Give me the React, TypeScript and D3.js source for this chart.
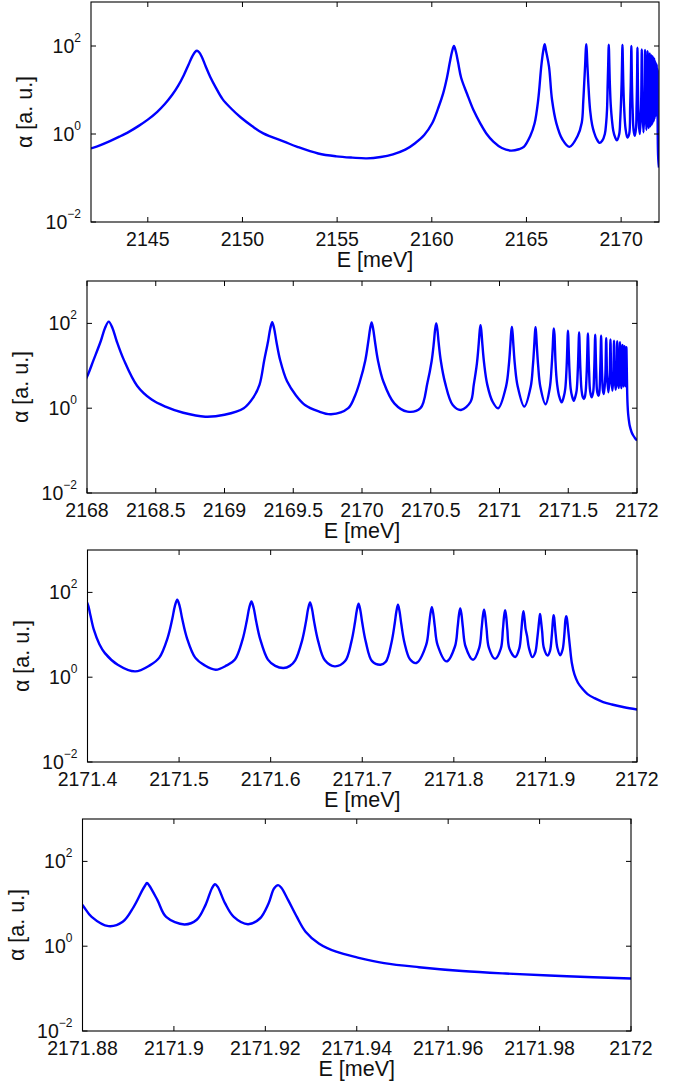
import * as d3 from 'd3';

// absorption spectrum: [E (meV), alpha (a.u.)]
// coarse scan, panel 1
const broadScan: [number, number][] = [
  [2142.0, 0.47], [2142.5, 0.56], [2143.0, 0.69], [2143.5, 0.87], [2144.0, 1.12],
  [2144.5, 1.51], [2145.0, 2.12], [2145.5, 3.2], [2145.9, 4.8], [2146.3, 7.9],
  [2146.6, 12.4], [2146.9, 21.7], [2147.15, 37.6], [2147.35, 58], [2147.5, 74],
  [2147.6, 78], [2147.7, 73], [2147.85, 57], [2148.05, 35], [2148.3, 19.8],
  [2148.6, 11.2], [2148.95, 6.2], [2149.4, 3.8], [2149.9, 2.4], [2150.5, 1.52],
  [2151.1, 1.03], [2152.2, 0.67], [2152.9, 0.51], [2154.0, 0.36], [2154.96, 0.31],
  [2155.8, 0.29], [2156.57, 0.28], [2157.3, 0.3], [2157.95, 0.345], [2158.6, 0.44],
  [2159.1, 0.61], [2159.6, 0.95], [2160.02, 1.75], [2160.35, 4.0], [2160.6, 8.4],
  [2160.8, 19], [2160.95, 42], [2161.07, 75], [2161.17, 100], [2161.27, 75],
  [2161.39, 42], [2161.55, 19], [2161.87, 8.0], [2162.2, 3.5], [2162.56, 1.75],
  [2162.9, 1.0], [2163.25, 0.67], [2163.7, 0.48], [2164.17, 0.42], [2164.6, 0.45],
  [2164.86, 0.51], [2165.2, 0.9], [2165.43, 1.75], [2165.62, 6], [2165.78, 34],
  [2165.88, 75], [2165.96, 110], [2166.04, 75], [2166.19, 34], [2166.35, 6],
  [2166.58, 1.75], [2166.9, 0.75], [2167.27, 0.51], [2167.7, 0.9], [2167.92, 1.8],
];

// panel 2
const midScan: [number, number][] = [
  [2168.0, 5.5], [2168.048, 13.8], [2168.101, 39], [2168.131, 78], [2168.158, 110],
  [2168.185, 78], [2168.215, 39], [2168.268, 13.8], [2168.364, 3.4], [2168.47, 1.6],
  [2168.57, 1.09], [2168.7, 0.78], [2168.86, 0.63], [2169.0, 0.7], [2169.14, 1.0],
  [2169.21, 1.8], [2169.255, 3.6], [2169.289, 13.5], [2169.317, 38], [2169.333, 76],
  [2169.347, 107], [2169.361, 76], [2169.377, 38], [2169.405, 13.5], [2169.455, 4.3],
  [2169.52, 2.0], [2169.585, 1.19], [2169.68, 0.85], [2169.775, 0.72], [2169.9, 1.0],
  [2169.95, 2.0], [2169.984, 4.2], [2170.024, 13.4], [2170.046, 38], [2170.059, 75],
  [2170.07, 106], [2170.081, 75], [2170.094, 38], [2170.116, 13.4], [2170.156, 4.2],
  [2170.235, 1.3], [2170.33, 0.83], [2170.425, 1.0], [2170.476, 4.0], [2170.506, 12.6],
  [2170.5225, 35], [2170.5316, 71], [2170.54, 100], [2170.5484, 71], [2170.5575, 35],
  [2170.574, 12.6], [2170.604, 4.0], [2170.66, 1.19], [2170.72, 0.91], [2170.79, 1.42],
  [2170.813, 3.6], [2170.836, 11.5], [2170.8485, 32], [2170.8556, 64], [2170.862, 91],
  [2170.8684, 64], [2170.8755, 32], [2170.888, 11.5], [2170.911, 3.6], [2170.95, 1.42],
  [2170.99, 1.0], [2171.048, 3.3], [2171.068, 10.5], [2171.0785, 29.5], [2171.0845, 58],
  [2171.09, 83], [2171.0955, 58], [2171.1015, 29.5], [2171.112, 10.5], [2171.132, 3.3],
  [2171.18, 1.09], [2171.227, 3.2], [2171.243, 10.2], [2171.2523, 29], [2171.2574, 57],
  [2171.262, 81], [2171.2666, 57], [2171.2717, 29], [2171.281, 10.2], [2171.297, 3.2],
  [2171.335, 1.24], [2171.3655, 3.0], [2171.379, 9.5], [2171.387, 27], [2171.391, 53],
  [2171.395, 76],
];

// panel 3
const edgeScan: [number, number][] = [
  [2171.4, 55], [2171.403, 30], [2171.407, 13], [2171.413, 6], [2171.419, 3.7],
  [2171.433, 1.97], [2171.452, 1.37], [2171.468, 1.9], [2171.4784, 2.9], [2171.4875, 8.5],
  [2171.4926, 23.9], [2171.4954, 47.6], [2171.498, 67], [2171.5006, 47.6], [2171.5034, 23.9],
  [2171.5085, 8.5], [2171.5176, 2.9], [2171.528, 1.9], [2171.54, 1.5], [2171.552, 1.9],
  [2171.561, 2.6], [2171.5693, 7.7], [2171.574, 21.8], [2171.5766, 43.4], [2171.579, 61],
  [2171.5814, 43.4], [2171.584, 21.8], [2171.5887, 7.7], [2171.597, 2.6], [2171.605, 1.85],
  [2171.614, 1.65], [2171.621, 1.85], [2171.6268, 2.5], [2171.6343, 7.3], [2171.6386, 20.7],
  [2171.6409, 41], [2171.643, 58], [2171.6451, 41], [2171.6474, 20.7], [2171.6517, 7.3],
  [2171.6592, 2.5], [2171.67, 1.8], [2171.6813, 2.4], [2171.6881, 6.8], [2171.692, 19.2],
  [2171.6941, 38], [2171.696, 54], [2171.6979, 38], [2171.7, 19.2], [2171.7039, 6.8],
  [2171.7107, 2.4], [2171.72, 1.97], [2171.7257, 2.3], [2171.7319, 6.5], [2171.7354, 18.2],
  [2171.7373, 36], [2171.739, 51], [2171.7407, 36], [2171.7426, 18.2], [2171.7461, 6.5],
  [2171.7523, 2.6], [2171.759, 2.16], [2171.7697, 5.7], [2171.7728, 16], [2171.7745, 32],
  [2171.776, 45], [2171.7775, 32], [2171.7792, 16], [2171.7823, 5.7], [2171.792, 2.36],
  [2171.8012, 5.3], [2171.8041, 14.9], [2171.8056, 29.7], [2171.807, 42], [2171.8084, 29.7],
  [2171.8099, 14.9], [2171.8128, 5.3], [2171.821, 2.57], [2171.8277, 4.9], [2171.8303, 13.9],
  [2171.8317, 27.7], [2171.833, 39], [2171.8343, 27.7], [2171.8357, 13.9], [2171.8383, 4.9],
  [2171.845, 2.7], [2171.8513, 4.7], [2171.8536, 13.4], [2171.8548, 26.7], [2171.856, 38],
  [2171.8572, 26.7], [2171.8584, 13.4], [2171.8607, 4.7], [2171.867, 3.0], [2171.8715, 4.8],
  [2171.8737, 12.6], [2171.8749, 25.2], [2171.876, 36], [2171.8771, 25], [2171.8783, 14],
];

// panel 4
const tailScan: [number, number][] = [
  [2171.88, 9.3], [2171.882, 4.9], [2171.8857, 2.97], [2171.8888, 3.76], [2171.8912, 8.5],
  [2171.8931, 21], [2171.8937, 27], [2171.8941, 31], [2171.8946, 27], [2171.8964, 12.2],
  [2171.8983, 4.9], [2171.9023, 3.26], [2171.905, 4.2], [2171.9069, 9.3], [2171.9083, 23],
  [2171.909, 29], [2171.9096, 25], [2171.9112, 10.2], [2171.9131, 4.9], [2171.9162, 3.3],
  [2171.9188, 4.5], [2171.9207, 10.2], [2171.9219, 23], [2171.9228, 27.5], [2171.9235, 24],
  [2171.925, 12.2], [2171.9269, 4.9], [2171.9288, 2.2], [2171.9317, 1.16], [2171.9355, 0.74],
  [2171.9402, 0.54], [2171.946, 0.4], [2171.9536, 0.32], [2171.9631, 0.26], [2171.9726, 0.227],
  [2171.986, 0.196], [2172.0, 0.173],
];

const spectrum = [...broadScan, ...midScan, ...edgeScan, ...tailScan];
const energies = spectrum.map(d => d[0]);

const xTicksA = [2145, 2150, 2155, 2160, 2165, 2170];
const xTicksB = [2168, 2168.5, 2169, 2169.5, 2170, 2170.5, 2171, 2171.5, 2172];
const xTicksC = [2171.4, 2171.5, 2171.6, 2171.7, 2171.8, 2171.9, 2172];
const xTicksD = [2171.88, 2171.9, 2171.92, 2171.94, 2171.96, 2171.98, 2172];
const yTicks = [1e-2, 1, 1e2];
const yExponents = ['\u22122', '0', '2'];

const panels = [
  { id: 'a', domain: [2142, 2172], ticks: xTicksA, left: 91, right: 659, top: 2, bottom: 222 },
  { id: 'b', domain: [2168, 2172], ticks: xTicksB, left: 87, right: 637, top: 281, bottom: 493 },
  { id: 'c', domain: [2171.4, 2172], ticks: xTicksC, left: 87.5, right: 637, top: 550, bottom: 762 },
  { id: 'd', domain: [2171.88, 2172], ticks: xTicksD, left: 82.5, right: 631, top: 819, bottom: 1031 },
];

const font = '"Liberation Sans", Arial, Helvetica, sans-serif';
const tickLen = 5;

function Panel({ p }: { p: any }) {
  const x = d3.scaleLinear().domain(p.domain).range([p.left, p.right]);
  const y = d3.scaleLog().domain([1e-2, 1e3]).range([p.bottom, p.top]);

  // only the samples that fall in this window (plus one on each side)
  const i0 = Math.max(0, d3.bisectLeft(energies, p.domain[0]) - 1);
  const i1 = Math.min(spectrum.length, d3.bisectRight(energies, p.domain[1]) + 1);
  const pts = spectrum.slice(i0, i1);

  const line = d3.line<[number, number]>()
    .x(d => x(d[0]))
    .y(d => y(d[1]))
    .curve(d3.curveCatmullRom.alpha(0.5));

  const midX = (p.left + p.right) / 2;
  const midY = (p.top + p.bottom) / 2;

  return (
    <g>
      <clipPath id={`clip-${p.id}`}>
        <rect x={p.left} y={p.top} width={p.right - p.left} height={p.bottom - p.top} />
      </clipPath>
      <path d={line(pts) || ''} fill="none" stroke="#0000ff" strokeWidth={2.4}
        strokeLinejoin="round" clipPath={`url(#clip-${p.id})`} />

      {/* ticks on all four sides, pointing in */}
      {p.ticks.map((t: number) => (
        <g key={`xt${t}`}>
          <line x1={x(t)} x2={x(t)} y1={p.bottom} y2={p.bottom - tickLen} stroke="#000" />
          <line x1={x(t)} x2={x(t)} y1={p.top} y2={p.top + tickLen} stroke="#000" />
          <text x={x(t)} y={p.bottom + 24} textAnchor="middle" fontSize={19.5}
            fontFamily={font} fill="#111">{String(+t.toFixed(2))}</text>
        </g>
      ))}
      {yTicks.map((t, i) => (
        <g key={`yt${t}`}>
          <line x1={p.left} x2={p.left + tickLen} y1={y(t)} y2={y(t)} stroke="#000" />
          <line x1={p.right} x2={p.right - tickLen} y1={y(t)} y2={y(t)} stroke="#000" />
          <text x={p.left - 10} y={y(t) + 7} textAnchor="end" fontFamily={font} fill="#111">
            <tspan fontSize={19.5}>10</tspan>
            <tspan fontSize={12} dy={-11.5}>{yExponents[i]}</tspan>
          </text>
        </g>
      ))}

      <rect x={p.left} y={p.top} width={p.right - p.left} height={p.bottom - p.top}
        fill="none" stroke="#000" strokeWidth={1.1} />

      <text x={midX} y={p.bottom + 45} textAnchor="middle" fontSize={21.5}
        fontFamily={font} fill="#111">E [meV]</text>
      <text transform={`translate(${p.left - 59},${midY}) rotate(-90)`} textAnchor="middle"
        fontSize={21.5} fontFamily={font} fill="#111">α [a. u.]</text>
    </g>
  );
}

export default function App() {
  return (
    <svg width={684} height={1083} style={{ position: 'absolute', left: 0, top: 0, background: '#fff' }}>
      <rect width={684} height={1083} fill="#fff" />
      {panels.map(p => <Panel key={p.id} p={p} />)}
    </svg>
  );
}
